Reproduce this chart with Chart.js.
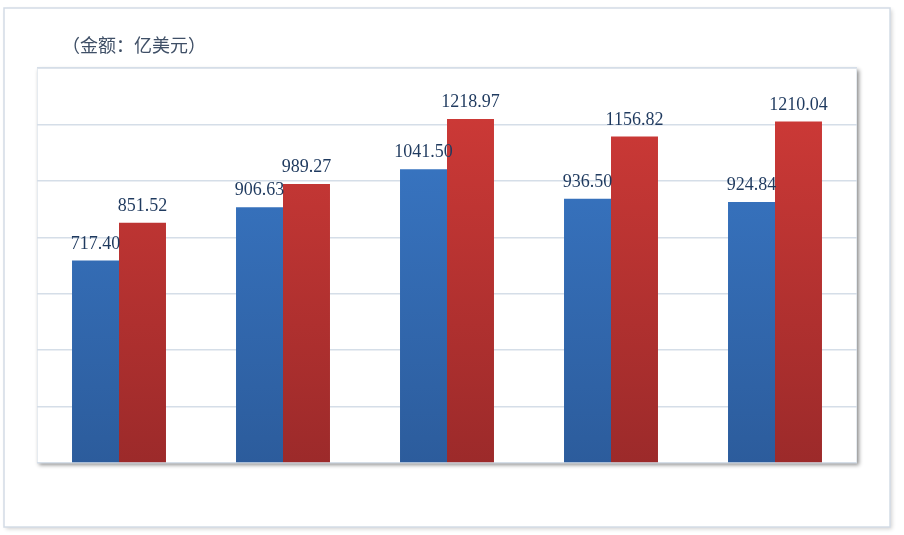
<!DOCTYPE html>
<html><head><meta charset="utf-8">
<script src="https://cdn.jsdelivr.net/npm/chart.js@4.4.0/dist/chart.umd.min.js"></script>
<style>html,body{margin:0;padding:0;background:#fff;}#wrap{width:904px;height:535px;position:relative;}</style>
</head><body><div id="wrap"><canvas id="c" width="904" height="535"></canvas></div>
<script>
const categories = ["1", "2", "3", "4", "5"];
const seriesA = [717.40, 906.63, 1041.50, 936.50, 924.84];
const seriesB = [851.52, 989.27, 1218.97, 1156.82, 1210.04];
const yMin = 0, yMax = 1400, yStep = 200;
const titleText = "（金额：亿美元）";

const ctx = document.getElementById('c').getContext('2d');
function grad(c, top, bot){
  const ch = c.chart, a = ch.chartArea;
  if(!a) return top;
  const g = ch.ctx.createLinearGradient(0, a.top, 0, a.bottom);
  g.addColorStop(0, top); g.addColorStop(1, bot);
  return g;
}
const framePlugin = {
  id:'frame',
  beforeDraw(ch){
    const c = ch.ctx, a = ch.chartArea;
    c.save();
    c.fillStyle='#fff'; c.fillRect(0,0,ch.width,ch.height);
    c.shadowColor='rgba(0,0,0,0.18)'; c.shadowBlur=4; c.shadowOffsetX=2; c.shadowOffsetY=2;
    c.fillStyle='#fff'; c.fillRect(4,8,886,519);
    c.shadowColor='transparent';
    c.strokeStyle='#d3dce6'; c.lineWidth=1.5; c.strokeRect(4,8,886,519);
    c.shadowColor='rgba(0,0,0,0.45)'; c.shadowBlur=4; c.shadowOffsetX=2; c.shadowOffsetY=2;
    c.fillStyle='#fff'; c.fillRect(a.left,a.top,a.right-a.left,a.bottom-a.top);
    c.shadowColor='transparent';
    c.strokeStyle='#e6ebf0'; c.lineWidth=1; c.strokeRect(a.left+0.5,a.top+0.5,a.right-a.left-1,a.bottom-a.top-1);
    c.fillStyle='#3f4f66'; c.font='18px "Noto Sans CJK SC"'; c.textBaseline='middle'; c.textAlign='left';
    c.fillText(titleText, 62, 45);
    c.restore();
  },
  afterDatasetsDraw(ch){
    const c = ch.ctx;
    c.save();
    c.font='18px "Liberation Serif"'; c.fillStyle='#1f3a5f'; c.textAlign='center'; c.textBaseline='alphabetic';
    ch.data.datasets.forEach((ds,i)=>{
      ch.getDatasetMeta(i).data.forEach((bar,j)=>{
        c.fillText(ds.data[j].toFixed(2), bar.x, bar.y-12);
      });
    });
    c.restore();
  }
};
new Chart(ctx,{
  type:'bar',
  data:{labels:categories,datasets:[
    {data:seriesA, backgroundColor:c=>grad(c,'#3b7bcb','#2c5c9c'), borderWidth:0},
    {data:seriesB, backgroundColor:c=>grad(c,'#d23b38','#9c2a2a'), borderWidth:0}
  ]},
  options:{
    responsive:false, animation:false,
    layout:{padding:{left:37,top:68,right:47,bottom:72}},
    plugins:{legend:{display:false},tooltip:{enabled:false}},
    datasets:{bar:{categoryPercentage:0.573,barPercentage:1}},
    scales:{
      x:{display:false},
      y:{min:yMin,max:yMax,ticks:{display:false,stepSize:yStep},border:{display:false},
         grid:{color:'#d5dee8',lineWidth:1.5,drawTicks:false}}
    }
  },
  plugins:[framePlugin]
});
</script></body></html>
